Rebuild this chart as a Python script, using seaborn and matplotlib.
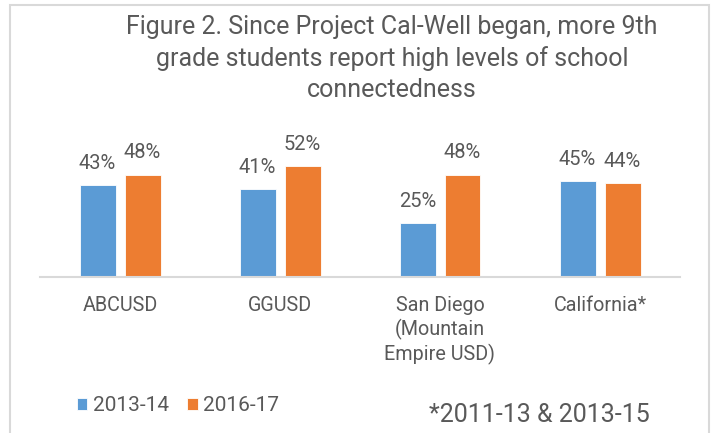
import pandas as pd
import seaborn as sns
import matplotlib.pyplot as plt
from matplotlib.patches import Rectangle

sites = ["ABCUSD", "GGUSD", "San Diego\n(Mountain\nEmpire USD)", "California*"]
years = ["2013-14", "2016-17"]
pct_2013 = [43, 41, 25, 45]
pct_2016 = [48, 52, 48, 44]

title = ("Figure 2. Since Project Cal-Well began, more 9th\n"
         "grade students report high levels of school\n"
         "connectedness")
footnote = "*2011-13 & 2013-15"

df = pd.DataFrame({
    "site": sites * 2,
    "year": [years[0]] * 4 + [years[1]] * 4,
    "pct": pct_2013 + pct_2016
})

sns.set_style("white")
plt.rcParams["font.family"] = ["Roboto", "DejaVu Sans"]

grey = "#595959"
W, H = 713, 433

fig = plt.figure(figsize=(7.13, 4.33), dpi=100)
ax = fig.add_axes([40 / W, 1 - 276.7 / H, 640 / W, (276.7 - 149) / H])

sns.barplot(
    data=df,
    x="site",
    y="pct",
    hue="year",
    palette=["#5B9BD5", "#ED7D31"],
    saturation=1,
    width=0.5625,
    gap=0.2,
    edgecolor="white",
    linewidth=0.6,
    ax=ax
)

ax.set_ylim(0, 60)
ax.set_xlim(-0.5, 3.5)
ax.set_xlabel("")
ax.set_ylabel("")
ax.set_yticks([])

for s in ["top", "right", "left"]:
    ax.spines[s].set_visible(False)
ax.spines["bottom"].set_color("#d9d9d9")
ax.spines["bottom"].set_linewidth(1.5)

ax.tick_params(axis="x", length=0, pad=14, labelsize=14.2, labelcolor=grey)
for lbl in ax.get_xticklabels():
    lbl.set_linespacing(1.25)

for container, vals in zip(ax.containers, [pct_2013, pct_2016]):
    for bar, v in zip(container, vals):
        ax.annotate(
            f"{v}%",
            (bar.get_x() + bar.get_width() / 2, bar.get_height()),
            xytext=(0, 11.8),
            textcoords="offset points",
            ha="center",
            va="baseline",
            fontsize=14.5,
            color=grey
        )

handles, labels = ax.get_legend_handles_labels()
ax.legend(
    handles,
    labels,
    loc="center left",
    bbox_to_anchor=(77 / W, 1 - 405.5 / H),
    bbox_transform=fig.transFigure,
    ncol=2,
    frameon=False,
    fontsize=15,
    labelcolor=grey,
    handlelength=0.5,
    handleheight=0.5,
    handletextpad=0.25,
    columnspacing=0.9,
    borderpad=0,
    borderaxespad=0
)

fig.text(392 / W, 1 - 15 / H, title, ha="center", va="top",
         fontsize=18, color=grey, linespacing=1.35)

fig.text(429 / W, 1 - 421.7 / H, footnote, ha="left", va="baseline",
         fontsize=18, color=grey)

fig.patches.append(Rectangle(
    (10 / W, -0.1), 699 / W, 1.1 - 5 / H,
    transform=fig.transFigure, fill=False,
    edgecolor="#d9d9d9", linewidth=1.5
))

plt.savefig("out.png", dpi=100)
